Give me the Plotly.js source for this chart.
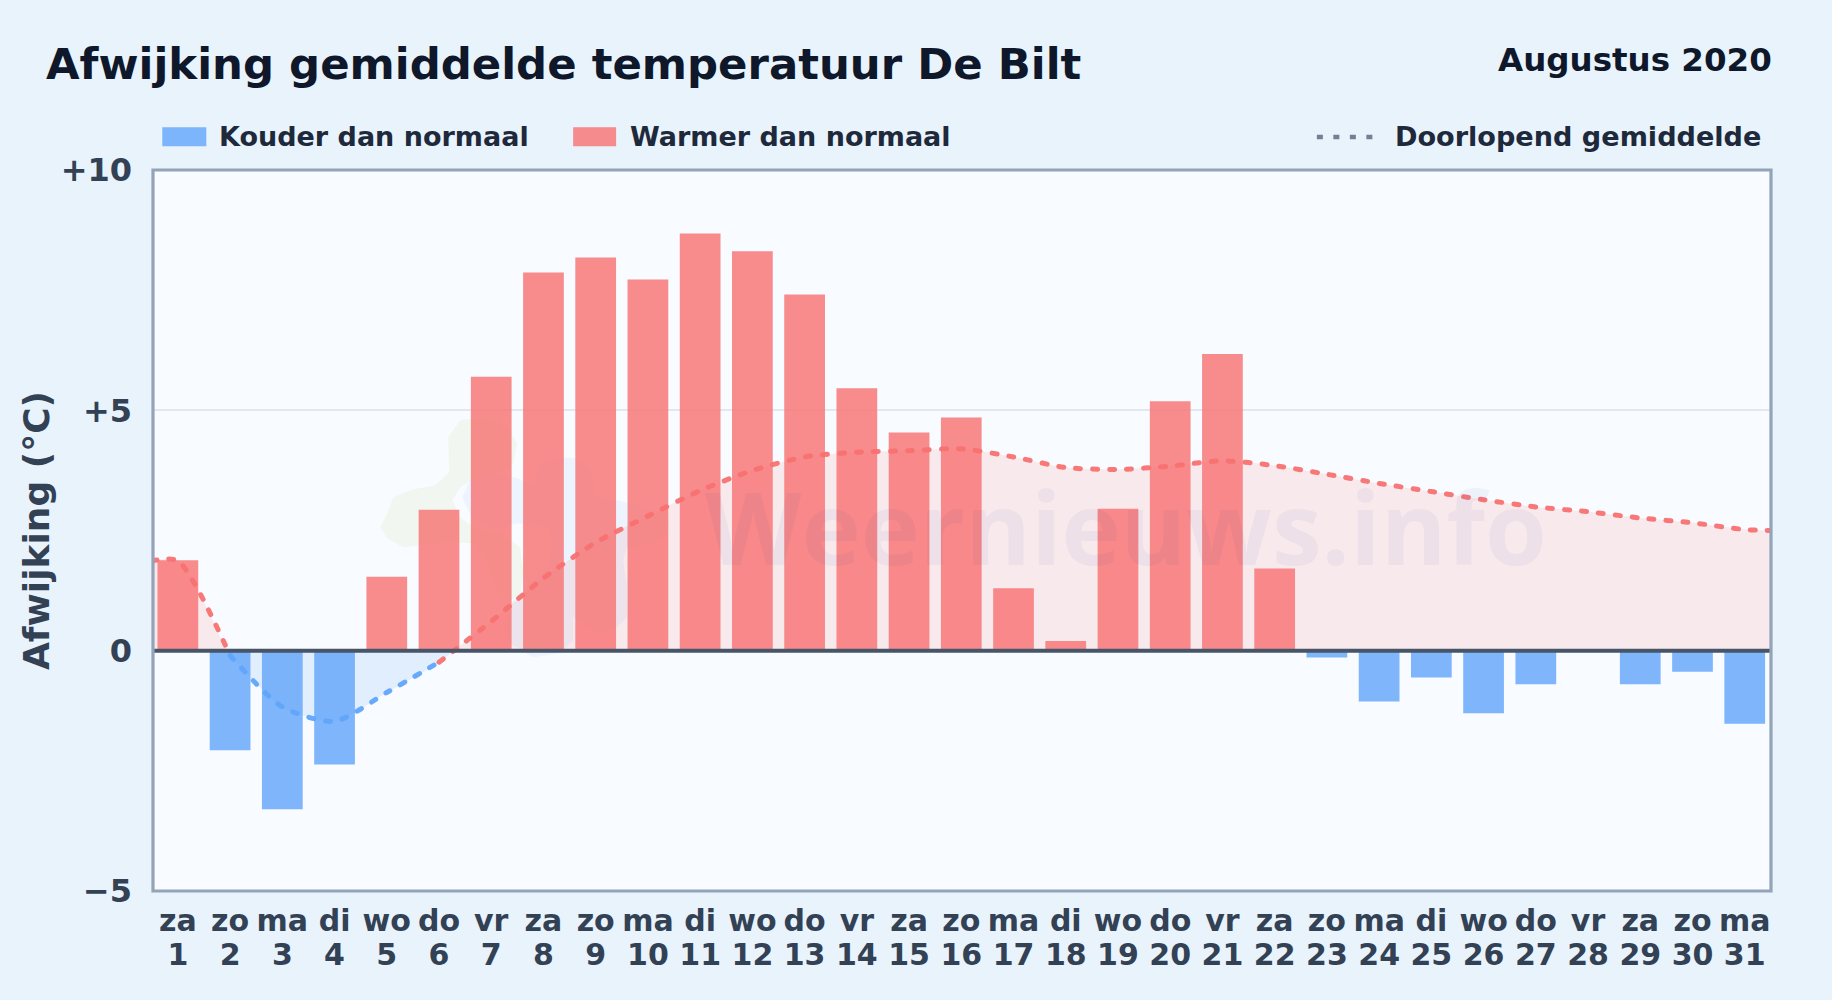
<!DOCTYPE html>
<html>
<head>
<meta charset="utf-8">
<script src="https://cdn.plot.ly/plotly-3.0.1.min.js"></script>
<style>
html,body{margin:0;padding:0;background:#e8f3fc;}
#chart{width:1832px;height:1000px;}
.js-line{stroke-linecap:round;}
</style>
</head>
<body>
<div id="chart"></div>
<script>
const days = [1,2,3,4,5,6,7,8,9,10,11,12,13,14,15,16,17,18,19,20,21,22,23,24,25,26,27,28,29,30,31];
const weekdays = ['za','zo','ma','di','wo','do','vr','za','zo','ma','di','wo','do','vr','za','zo','ma','di','wo','do','vr','za','zo','ma','di','wo','do','vr','za','zo','ma'];
const coldValues = [null,-2.07,-3.3,-2.37,null,null,null,null,null,null,null,null,null,null,null,null,null,null,null,null,null,null,-0.14,-1.06,-0.56,-1.3,-0.7,null,-0.7,-0.44,-1.52];
const warmValues = [1.88,null,null,null,1.54,2.93,5.7,7.87,8.18,7.72,8.68,8.31,7.41,5.46,4.54,4.85,1.3,0.2,2.95,5.19,6.17,1.71,null,null,null,null,null,null,null,null,null];

// Running mean, read per day, with the line's extension to both plot edges
const meanWarmStartX = [0.5,1,2];
const meanWarmStartY = [1.87,1.87,-0.1];
const meanColdX = [2,3,4,5,6];
const meanColdY = [-0.1,-1.17,-1.47,-0.87,-0.24];
const meanWarmX = [6,7,8,9,10,11,12,13,14,15,16,17,18,19,20,21,22,23,24,25,26,27,28,29,30,31,31.5];
const meanWarmY = [-0.24,0.61,1.51,2.25,2.8,3.33,3.75,4.03,4.13,4.16,4.2,4.03,3.81,3.77,3.84,3.95,3.85,3.67,3.48,3.31,3.14,2.99,2.89,2.76,2.66,2.52,2.5];

// Shaded areas, ending where the line crosses zero
const fillWarmStartX = [0.5,1,1.93];
const fillWarmStartY = [1.87,1.87,0];
const fillColdX = [1.93,2,3,4,5,6,6.28];
const fillColdY = [0,-0.1,-1.17,-1.47,-0.87,-0.24,0];
const fillWarmX = [6.28,7,8,9,10,11,12,13,14,15,16,17,18,19,20,21,22,23,24,25,26,27,28,29,30,31,31.5];
const fillWarmY = [0,0.61,1.51,2.25,2.8,3.33,3.75,4.03,4.13,4.16,4.2,4.03,3.81,3.77,3.84,3.95,3.85,3.67,3.48,3.31,3.14,2.99,2.89,2.76,2.66,2.52,2.5];

const yTickValues = [-5,0,5,10];
const yTickLabels = ['\u22125','0','+5','+10'];

const chartTitle = 'Afwijking gemiddelde temperatuur De Bilt';
const monthLabel = 'Augustus 2020';
const legendCold = 'Kouder dan normaal';
const legendWarm = 'Warmer dan normaal';
const legendMean = 'Doorlopend gemiddelde';
const yTitle = 'Afwijking (\u00b0C)';
const watermark = 'Weernieuws.info';

const W = 1832, H = 1000;
const M = {l:152.7, r:60.7, t:169.8, b:109.3};
const px = v => (v - M.l) / (W - M.l - M.r);
const py = v => 1 - (v - M.t) / (H - M.t - M.b);
const FONT = '"DejaVu Sans", sans-serif';
const RED = 'rgba(248,113,113,0.8)', BLUE = 'rgba(96,165,250,0.8)';
const DASH = '5px,12px';
const SMOOTH = 0.7;

const lineTrace = (x,y,color) => ({x,y,type:'scatter',mode:'lines',hoverinfo:'skip',showlegend:false,
  line:{color,width:5,shape:'spline',smoothing:SMOOTH,dash:DASH}});
const fillTrace = (x,y,color) => ({x,y,type:'scatter',mode:'lines',hoverinfo:'skip',showlegend:false,
  line:{width:0,color:'rgba(0,0,0,0)',shape:'spline',smoothing:SMOOTH},fill:'tozeroy',fillcolor:color});

const FILLRED = 'rgba(248,113,113,0.13)', FILLBLUE = 'rgba(96,165,250,0.15)';

const data = [
  fillTrace(fillWarmStartX,fillWarmStartY,FILLRED),
  fillTrace(fillColdX,fillColdY,FILLBLUE),
  fillTrace(fillWarmX,fillWarmY,FILLRED),
  {x:days,y:coldValues,type:'bar',name:legendCold,width:0.78,marker:{color:BLUE,line:{width:0}},showlegend:false},
  {x:days,y:warmValues,type:'bar',name:legendWarm,width:0.78,marker:{color:RED,line:{width:0}},showlegend:false},
  lineTrace(meanWarmStartX,meanWarmStartY,'rgba(248,113,113,0.95)'),
  lineTrace(meanColdX,meanColdY,'rgba(96,165,250,0.95)'),
  lineTrace(meanWarmX,meanWarmY,'rgba(248,113,113,0.95)'),
  {x:days,y:days.map(()=>null),xaxis:'x2',type:'scatter',mode:'markers',hoverinfo:'skip',showlegend:false}
];

// Faint logo behind the chart (outline in pixels, decoration only)
const logoGreen = [[387,513],[393,497],[413,489],[435,485],[449,472],[448,437],[460,420],[483,417],[507,427],[517,443],[513,463],[500,473],[477,477],[460,487],[452,500],[460,517],[473,527],[500,533],[520,547],[523,573],[520,597],[507,600],[493,587],[487,560],[473,543],[447,542],[403,547],[387,538],[380,527]];
const logoCloud = [[462,497],[470,480],[493,473],[517,478],[537,487],[537,467],[557,457],[577,458],[593,473],[595,497],[617,500],[643,507],[667,513],[667,533],[650,543],[627,547],[623,560],[627,587],[627,617],[613,630],[593,630],[573,617],[573,640],[560,653],[533,657],[510,643],[503,627],[513,600],[527,587],[547,567],[553,540],[547,525],[517,523],[493,528],[473,520]];
const outline = (pts,color) => ({type:'path',xref:'paper',yref:'paper',layer:'below',
  path:'M'+pts.map(p=>px(p[0])+','+py(p[1])).join('L')+'Z',fillcolor:color,line:{width:0}});

const shapes = [
  outline(logoGreen,'rgba(190,225,140,0.13)'),
  outline(logoCloud,'rgba(96,165,250,0.08)'),
  // legend swatches
  {type:'rect',xref:'paper',yref:'paper',x0:px(162),x1:px(206),y0:py(146),y1:py(127),fillcolor:BLUE,line:{width:0}},
  {type:'rect',xref:'paper',yref:'paper',x0:px(573),x1:px(616),y0:py(146),y1:py(127),fillcolor:RED,line:{width:0}},
  {type:'line',xref:'paper',yref:'paper',x0:px(1317),x1:px(1374),y0:py(136.7),y1:py(136.7),line:{color:'#64748b',width:4.5,dash:'6px,10.5px'},opacity:0.9},
  // heavy zero line
  {type:'line',xref:'paper',yref:'y',x0:0,x1:1,y0:0,y1:0,layer:'above',line:{color:'#475569',width:4}},
  // plot border, centred on the plot edge
  {type:'rect',xref:'paper',yref:'paper',x0:0,x1:1,y0:0,y1:1,layer:'above',line:{color:'#94a3b8',width:3.2},fillcolor:'rgba(0,0,0,0)'}
];

const annotations = [
  {xref:'paper',yref:'paper',x:px(1774.5),y:py(60),xanchor:'right',yanchor:'middle',showarrow:false,text:monthLabel,
   font:{family:FONT,size:32.5,weight:700,color:'#0f172a'}},
  {xref:'paper',yref:'paper',x:px(216.5),y:py(136),xanchor:'left',yanchor:'middle',showarrow:false,text:legendCold,
   font:{family:FONT,size:27,weight:700,color:'#1e293b'}},
  {xref:'paper',yref:'paper',x:px(627.5),y:py(136),xanchor:'left',yanchor:'middle',showarrow:false,text:legendWarm,
   font:{family:FONT,size:27,weight:700,color:'#1e293b'}},
  {xref:'paper',yref:'paper',x:px(1763),y:py(136),xanchor:'right',yanchor:'middle',showarrow:false,text:legendMean,
   font:{family:FONT,size:27.1,weight:700,color:'#1e293b'}},
  {xref:'paper',yref:'paper',x:px(1126),y:py(526),xanchor:'center',yanchor:'middle',showarrow:false,text:watermark,
   font:{family:'"Open Sans", sans-serif',size:100,weight:700,color:'rgba(50,70,150,0.055)'}}
];

const layout = {
  width:W,height:H,
  paper_bgcolor:'#e8f3fc',plot_bgcolor:'#f8fbff',
  margin:M,
  barmode:'overlay',
  showlegend:false,
  title:{text:chartTitle,x:46/W,xref:'container',xanchor:'left',yref:'container',y:1-64/H,yanchor:'middle',
    font:{family:FONT,size:43.4,weight:700,color:'#0f172a'}},
  xaxis:{type:'linear',range:[0.524,31.503],tickmode:'array',tickvals:days,ticktext:weekdays,
    showgrid:false,zeroline:false,showline:false,
    ticks:'',ticklabelstandoff:9,
    tickfont:{family:FONT,size:30,weight:700,color:'#334155'}},
  xaxis2:{type:'linear',range:[0.524,31.503],overlaying:'x',anchor:'y',side:'bottom',tickmode:'array',tickvals:days,ticktext:days.map(String),
    showgrid:false,zeroline:false,showline:false,ticks:'',ticklabelstandoff:43,
    tickfont:{family:FONT,size:30,weight:700,color:'#334155'}},
  yaxis:{range:[-5,10],tickmode:'array',tickvals:yTickValues,ticktext:yTickLabels,
    showgrid:true,gridcolor:'#e2e8f0',gridwidth:2,zeroline:false,showline:false,
    ticks:'',ticklabelstandoff:20,
    tickfont:{family:FONT,size:32,weight:700,color:'#334155'},
    title:{text:yTitle,standoff:0,font:{family:FONT,size:36,weight:700,color:'#334155'}}},
  shapes,annotations
};

Plotly.newPlot('chart',data,layout,{displayModeBar:false,staticPlot:true});
</script>
</body>
</html>
